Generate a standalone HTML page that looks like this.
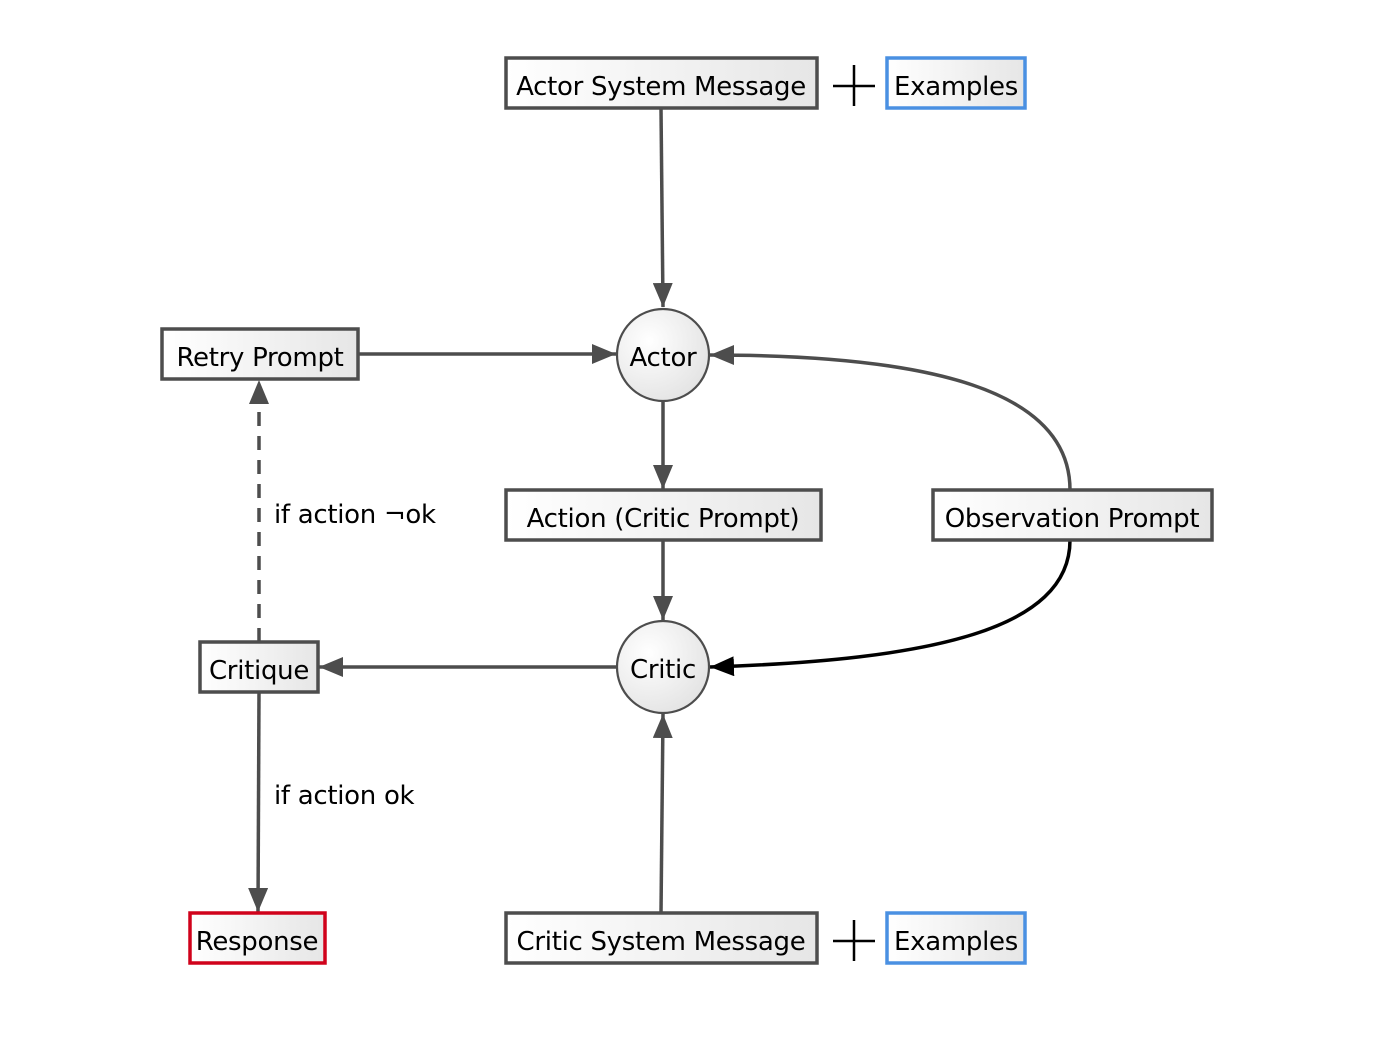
<!DOCTYPE html>
<html><head><meta charset="utf-8"><style>
html,body{margin:0;padding:0;background:#fff}
text{font-family:"DejaVu Sans","Liberation Sans",sans-serif;font-size:26px;fill:#000;letter-spacing:-0.3px}
</style></head><body>
<svg width="1378" height="1032" viewBox="0 0 1378 1032" xmlns="http://www.w3.org/2000/svg">
<defs>
<linearGradient id="g" x1="0" y1="0" x2="1" y2="0"><stop offset="0" stop-color="#fff"/><stop offset="1" stop-color="#e6e6e6"/></linearGradient>
<radialGradient id="rg" cx="0.35" cy="0.35" r="0.8"><stop offset="0" stop-color="#fff"/><stop offset="1" stop-color="#e0e0e0"/></radialGradient>
<marker id="ab" viewBox="0 0 24 20" refX="24" refY="10" markerWidth="24" markerHeight="20" markerUnits="userSpaceOnUse" orient="auto"><path d="M0,0 L24,10 L0,20 z" fill="#000"/></marker>
<marker id="ag" viewBox="0 0 24 20" refX="24" refY="10" markerWidth="24" markerHeight="20" markerUnits="userSpaceOnUse" orient="auto"><path d="M0,0 L24,10 L0,20 z" fill="#4d4d4d"/></marker>
</defs>
<g stroke="#4d4d4d" stroke-width="3.5" fill="none" marker-end="url(#ag)">
<path d="M661,108 L663,307"/>
<path d="M358,354 L616,354"/>
<path d="M663,401 L663,489"/>
<path d="M663,540 L663,620"/>
<path d="M1070,490 C1070,390 930,355 710,355"/>
<path d="M617,667 L319,667"/>
<path d="M259,642 L259,380" stroke-dasharray="14,10"/>
<path d="M259,692 L258,912"/>
<path d="M661,913 L663,714"/>
</g>
<path d="M1070,540 C1070,630 930,660 710,667" stroke="#000" stroke-width="3.5" fill="none" marker-end="url(#ab)"/>
<g stroke="#4d4d4d" stroke-width="3.5" fill="url(#g)">
<rect x="506" y="58" width="311" height="50"/>
<rect x="162" y="329" width="196" height="50"/>
<rect x="506" y="490" width="315" height="50"/>
<rect x="933" y="490" width="279" height="50"/>
<rect x="200" y="642" width="118" height="50"/>
<rect x="506" y="913" width="311" height="50"/>
</g>
<rect x="887" y="58" width="138" height="50" stroke="#4a90e2" stroke-width="3.5" fill="url(#g)"/>
<rect x="887" y="913" width="138" height="50" stroke="#4a90e2" stroke-width="3.5" fill="url(#g)"/>
<rect x="190" y="913" width="135" height="50" stroke="#d0021b" stroke-width="3.5" fill="url(#g)"/>
<circle cx="663" cy="355" r="46" stroke="#4d4d4d" stroke-width="2.2" fill="url(#rg)"/>
<circle cx="663" cy="667" r="46" stroke="#4d4d4d" stroke-width="2.2" fill="url(#rg)"/>
<g stroke="#000" stroke-width="2.5">
<path d="M833,86 H875 M854,65 V106"/>
<path d="M833,941 H875 M854,920 V961"/>
</g>
<g text-anchor="middle">
<text x="661" y="95">Actor System Message</text>
<text x="956" y="95">Examples</text>
<text x="260" y="366">Retry Prompt</text>
<text x="663" y="366">Actor</text>
<text x="663" y="527">Action (Critic Prompt)</text>
<text x="1072" y="527">Observation Prompt</text>
<text x="663" y="678">Critic</text>
<text x="259" y="679">Critique</text>
<text x="257" y="950">Response</text>
<text x="661" y="950">Critic System Message</text>
<text x="956" y="950">Examples</text>
</g>
<text x="274" y="523">if action ¬ok</text>
<text x="274" y="804">if action ok</text>
</svg>
</body></html>
